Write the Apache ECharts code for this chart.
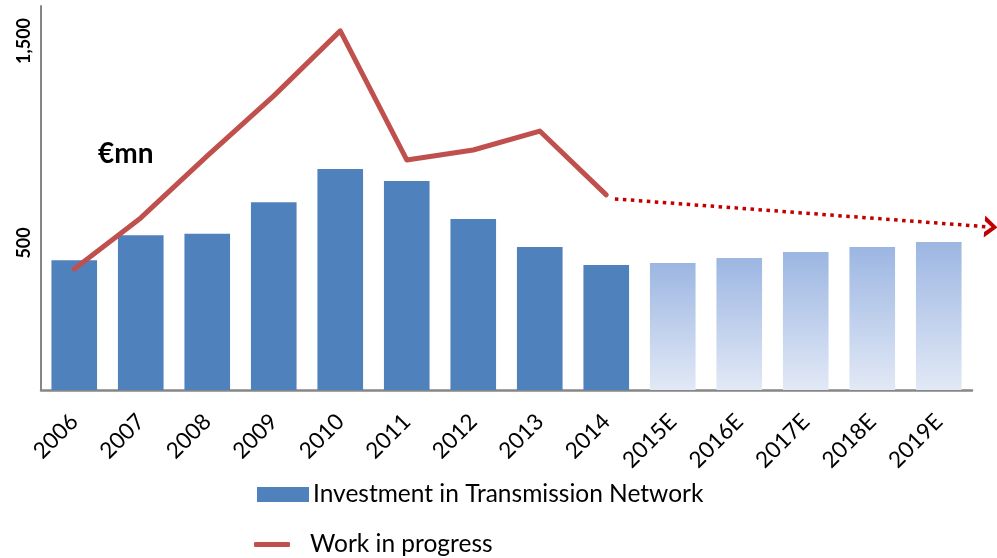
<!DOCTYPE html>
<html>
<head>
<meta charset="utf-8">
<script src="https://cdn.jsdelivr.net/npm/echarts@6/dist/echarts.min.js"></script>
<style>html,body{margin:0;padding:0;background:#fff}#c{width:997px;height:558px}</style>
</head>
<body>
<div id="c"></div>
<script>
const categories = ['2006','2007','2008','2009','2010','2011','2012','2013','2014','2015E','2016E','2017E','2018E','2019E'];
const investmentActual = [414, 538, 546, 701, 866, 807, 619, 480, 391, null, null, null, null, null];
const investmentForecast = [null, null, null, null, null, null, null, null, null, 401, 426, 455, 480, 505];
const workInProgress = [371, 624, 931, 1228, 1550, 911, 960, 1054, 738];
const trendPoints = [[8.13, 718], [13.77, 579]];
const yTickLabels = [500, 1500];
const unitLabel = '€mn';

const FONT = 'Lato';
const Y_MIN = -228, Y_MAX = 1673;
const chart = echarts.init(document.getElementById('c'));
const barData = categories.map((c, i) => [i, investmentActual[i] != null ? investmentActual[i] : investmentForecast[i], investmentActual[i] != null ? 0 : 1]);
const forecastFill = new echarts.graphic.LinearGradient(0, 0, 0, 1, [{offset: 0, color: '#9CB6E2'}, {offset: 1, color: '#E2E9F6'}]);

const yAxisBase = {
  type: 'value', min: Y_MIN, max: Y_MAX,
  splitLine: {show: false}, axisTick: {show: false}
};

chart.setOption({
  animation: false,
  grid: [
    {left: 41, right: 25, top: 6, bottom: 168},
    {left: 41, right: 0, top: 6, bottom: 168}
  ],
  title: {text: unitLabel, left: 93, top: 135, textStyle: {fontFamily: FONT, fontSize: 28, fontWeight: 'bold', color: '#000'}},
  xAxis: [{
    type: 'category', data: categories, gridIndex: 0,
    axisLine: {onZero: false, lineStyle: {color: '#868686', width: 2.5}},
    axisTick: {show: false},
    axisLabel: {rotate: 45, fontFamily: FONT, fontSize: 22.5, color: '#000', margin: 28, interval: 0}
  }, {
    type: 'value', gridIndex: 1, min: -0.5, max: 956 / 66.5 - 0.5, show: false
  }],
  yAxis: [Object.assign({}, yAxisBase, {
    gridIndex: 0,
    axisLine: {show: true, onZero: false, lineStyle: {color: '#868686', width: 2}},
    axisLabel: {
      customValues: yTickLabels, rotate: 90, margin: 8,
      fontFamily: FONT, fontSize: 18, fontWeight: 'bold', color: '#000',
      formatter: v => v.toLocaleString('en-US')
    }
  }), Object.assign({}, yAxisBase, {gridIndex: 1, show: false})],
  legend: [{
    data: [{name: 'Investment in Transmission Network', icon: 'rect'}],
    left: 257, top: 482, padding: 0, itemWidth: 52, itemHeight: 15,
    textStyle: {fontFamily: FONT, fontSize: 24.5, color: '#000', padding: [0, 0, 0, -1]}
  }, {
    data: [{name: 'Work in progress', icon: 'roundRect'}],
    left: 254, top: 532, padding: 0, itemWidth: 36, itemHeight: 5,
    textStyle: {fontFamily: FONT, fontSize: 24.5, color: '#000', padding: [0, 0, 0, 15]}
  }],
  series: [{
    name: 'Investment in Transmission Network', type: 'custom',
    xAxisIndex: 0, yAxisIndex: 0,
    data: barData,
    encode: {x: 0, y: 1},
    itemStyle: {color: '#4F81BD'},
    renderItem: (params, api) => {
      const idx = api.value(0), val = api.value(1), fc = api.value(2);
      const top = api.coord([idx, val]);
      const bottom = api.coord([idx, Y_MIN]);
      const w = api.size([1, 0])[0] * 0.686;
      return {
        type: 'rect',
        shape: {x: top[0] - w / 2, y: top[1], width: w, height: bottom[1] - top[1]},
        style: {fill: fc ? forecastFill : '#4F81BD'}
      };
    }
  }, {
    name: 'Work in progress', type: 'line', data: workInProgress,
    xAxisIndex: 0, yAxisIndex: 0,
    symbol: 'none', lineStyle: {color: '#C0504D', width: 5, cap: 'round', join: 'round'},
    itemStyle: {color: '#C0504D'}, z: 3
  }, {
    name: 'trend', type: 'line', xAxisIndex: 1, yAxisIndex: 1, data: trendPoints,
    symbol: 'none', lineStyle: {color: '#C00000', width: 3.5, type: [3.5, 4.5]},
    markPoint: {
      symbol: 'path://M0,0 L13,10 L0,20 L0,15 L7,10 L0,5 Z', symbolSize: [13, 22], symbolRotate: -4,
      symbolOffset: [1, 0],
      itemStyle: {color: '#C00000'}, label: {show: false},
      data: [{coord: trendPoints[1]}]
    },
    z: 3
  }]
});
</script>
</body>
</html>
